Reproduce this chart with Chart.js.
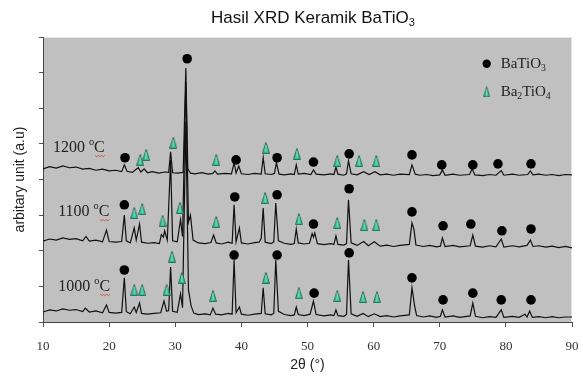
<!DOCTYPE html>
<html>
<head>
<meta charset="utf-8">
<script src="https://cdn.jsdelivr.net/npm/chart.js@4.4.0/dist/chart.umd.min.js"></script>
<style>body{margin:0;background:#fff}</style>
</head>
<body>
<canvas id="xrd" width="583" height="380"></canvas>
<script>
// x axis ticks (2 theta, degrees)
var thetaTicks = [10, 20, 30, 40, 50, 60, 70, 80, 90];
var temps = ['1200', '1100', '1000'];

// scans: [2theta, intensity a.u.]
var scan1200 = [[10,4.30],[11,4.36],[12,4.32],[13,4.38],[14,4.33],[15,4.35],[16,4.29],[17,4.31],[18,4.26],[19,4.29],[20,4.24],[21,4.26],[21.9,4.22],[22.3,4.41],[22.7,4.23],[23.5,4.20],[24.4,4.33],[24.8,4.21],[25.3,4.30],[25.8,4.19],[26.5,4.22],[27.5,4.18],[28.5,4.21],[29.0,4.20],[29.3,4.78],[29.6,4.19],[30.3,4.18],[31.2,4.20],[31.6,7.13],[31.9,4.30],[32.3,4.18],[33,4.16],[34,4.19],[35,4.15],[35.7,4.17],[36.0,4.24],[36.4,4.15],[37.5,4.17],[38.5,4.16],[38.9,4.47],[39.2,4.18],[39.6,4.38],[40.0,4.16],[41,4.14],[42,4.17],[43.0,4.15],[43.3,4.61],[43.6,4.16],[44.5,4.14],[45.0,4.17],[45.3,4.47],[45.7,4.15],[46.5,4.13],[47.5,4.16],[48.0,4.14],[48.3,4.41],[48.6,4.15],[49.5,4.17],[50.5,4.14],[50.9,4.27],[51.3,4.15],[52.5,4.13],[53.5,4.16],[54.0,4.14],[54.3,4.35],[54.6,4.15],[55.5,4.12],[55.9,4.16],[56.2,4.52],[56.6,4.16],[57.5,4.13],[58.5,4.22],[59.3,4.14],[60.2,4.22],[61,4.13],[62,4.15],[63,4.12],[64,4.15],[65.4,4.14],[65.8,4.41],[66.3,4.15],[67,4.12],[68,4.14],[69,4.11],[70.0,4.13],[70.4,4.27],[70.8,4.12],[72,4.15],[73,4.12],[74.5,4.14],[74.9,4.30],[75.3,4.13],[76.5,4.11],[77.5,4.14],[78.5,4.12],[79.3,4.25],[79.7,4.12],[81,4.15],[82,4.12],[83.3,4.14],[83.7,4.24],[84.1,4.13],[85,4.15],[86,4.12],[87,4.14],[88,4.11],[89,4.14],[90,4.13]];

var scan1100 = [[10,2.27],[11,2.33],[12,2.30],[13,2.36],[14,2.32],[15,2.34],[16,2.28],[16.5,2.40],[17,2.27],[18,2.30],[19,2.25],[19.6,2.58],[20,2.26],[21,2.24],[21.9,2.26],[22.3,3.00],[22.6,2.28],[23.2,2.22],[23.8,2.64],[24.1,2.30],[24.6,2.75],[24.9,2.24],[25.8,2.21],[26.8,2.23],[27.6,2.20],[27.9,2.45],[28.2,2.38],[28.4,2.56],[28.8,2.30],[29.3,4.55],[29.6,2.28],[30.3,2.25],[30.8,2.87],[31.1,2.40],[31.6,6.74],[32.0,2.80],[32.3,3.00],[32.7,2.30],[33.5,2.22],[34.5,2.20],[35.4,2.23],[35.8,2.44],[36.2,2.22],[37,2.19],[38,2.24],[38.6,2.21],[38.9,3.29],[39.2,2.25],[39.7,2.64],[40.0,2.22],[41,2.19],[42,2.23],[42.7,2.24],[43.0,2.35],[43.3,3.20],[43.6,2.24],[44.5,2.20],[44.9,2.25],[45.2,3.34],[45.6,2.28],[46.5,2.21],[47.5,2.18],[48.0,2.20],[48.3,2.61],[48.6,2.22],[49.5,2.19],[50.3,2.21],[50.7,2.48],[50.9,2.38],[51.1,2.50],[51.5,2.20],[52.5,2.17],[53.5,2.20],[54.0,2.18],[54.3,2.42],[54.6,2.18],[55.5,2.16],[55.9,2.20],[56.2,3.43],[56.6,2.22],[57.5,2.15],[58.5,2.26],[59.2,2.14],[60.1,2.25],[61,2.13],[62,2.16],[63,2.12],[64,2.15],[65.4,2.18],[65.8,2.78],[66.1,2.60],[66.4,2.16],[67.5,2.12],[68.5,2.15],[69.5,2.11],[70.1,2.13],[70.4,2.36],[70.8,2.12],[72,2.15],[73,2.11],[74.6,2.14],[75.0,2.44],[75.4,2.13],[76.5,2.10],[77.5,2.14],[78.5,2.11],[79.3,2.33],[79.7,2.10],[81,2.14],[82,2.11],[83.2,2.15],[83.7,2.30],[84.1,2.12],[85,2.14],[86,2.10],[87,2.13],[88,2.09],[89,2.12],[90,2.08]];

var scan1000 = [[10,0.28],[11,0.34],[12,0.31],[13,0.37],[14,0.33],[15,0.35],[16,0.29],[16.4,0.39],[17,0.28],[18,0.31],[19,0.26],[19.6,0.48],[20,0.27],[21,0.25],[21.9,0.27],[22.3,1.24],[22.6,0.29],[23.2,0.23],[23.8,0.42],[24.1,0.27],[24.6,0.53],[24.9,0.24],[25.8,0.22],[26.8,0.24],[27.8,0.26],[28.3,0.59],[28.7,0.30],[29.0,0.32],[29.3,1.54],[29.6,0.30],[30.3,0.27],[30.8,0.79],[31.1,0.40],[31.6,5.62],[32.0,0.90],[32.4,0.45],[32.8,0.25],[33.5,0.21],[34.5,0.23],[35.3,0.20],[35.7,0.39],[36.1,0.22],[37,0.20],[38,0.24],[38.6,0.22],[38.9,1.74],[39.2,0.26],[39.7,0.42],[40.0,0.22],[41,0.19],[42,0.22],[43.0,0.24],[43.3,0.96],[43.6,0.23],[44.5,0.20],[44.9,0.24],[45.2,1.74],[45.6,0.30],[46.5,0.21],[47.5,0.18],[48.0,0.20],[48.3,0.42],[48.6,0.21],[49.5,0.18],[50.4,0.22],[50.9,0.59],[51.3,0.21],[52.5,0.17],[53.5,0.20],[54.0,0.18],[54.3,0.34],[54.6,0.18],[55.5,0.16],[55.9,0.21],[56.2,1.74],[56.6,0.23],[57.5,0.16],[58.4,0.24],[59.2,0.15],[60.1,0.23],[61,0.15],[62,0.18],[63,0.14],[64,0.17],[65.4,0.20],[65.8,0.96],[66.2,0.45],[66.5,0.18],[67.5,0.14],[68.5,0.17],[69.5,0.13],[70.1,0.16],[70.4,0.34],[70.8,0.14],[72,0.17],[73,0.13],[74.6,0.17],[75.0,0.53],[75.4,0.16],[76.5,0.12],[77.5,0.15],[78.5,0.13],[79.3,0.34],[79.7,0.13],[81,0.16],[82,0.13],[82.9,0.22],[83.2,0.14],[83.6,0.31],[84.0,0.13],[85,0.15],[86,0.12],[87,0.15],[88,0.12],[89,0.14],[90,0.14]];

// phase markers above the peaks
var batio3 = [[22.4,4.61],[31.8,7.39],[39.2,4.55],[45.4,4.61],[50.9,4.49],[56.3,4.72],[65.8,4.69],[70.3,4.41],[75.0,4.41],[78.8,4.44],[83.8,4.44],
  [22.3,3.29],[39.0,3.51],[45.4,3.57],[50.9,2.75],[56.3,3.74],[65.8,3.09],[70.5,2.70],[74.7,2.75],[79.4,2.56],[83.8,2.61],
  [22.3,1.46],[38.9,1.88],[45.4,1.88],[51.0,0.81],[56.3,1.94],[65.8,1.24],[70.5,0.62],[75.0,0.81],[79.3,0.62],[83.8,0.62]];
var ba2tio4 = [[24.7,4.55],[25.6,4.69],[29.7,5.03],[36.2,4.55],[43.7,4.89],[48.4,4.72],[54.5,4.52],[57.8,4.52],[60.4,4.52],
  [23.8,3.06],[25.0,3.17],[28.1,2.84],[30.7,3.20],[36.2,2.81],[43.6,3.48],[48.7,2.89],[54.5,2.78],[58.6,2.72],[60.4,2.72],
  [23.8,0.90],[25.0,0.90],[28.7,0.90],[29.5,1.83],[31.0,1.24],[35.7,0.73],[43.7,1.24],[48.7,0.81],[54.5,0.73],[58.4,0.70],[60.5,0.70]];

function pts(a) { return a.map(function (p) { return {x: p[0], y: p[1]}; }); }

// tall teal triangle used for Ba2TiO4
function makeTri(w, h) {
  var c = document.createElement('canvas');
  c.width = w; c.height = h;
  var g = c.getContext('2d');
  g.beginPath();
  g.moveTo(w / 2, 0.5);
  g.lineTo(w - 0.5, h - 0.5);
  g.lineTo(0.5, h - 0.5);
  g.closePath();
  g.fillStyle = '#33c293';
  g.fill();
  g.strokeStyle = '#2c6f5f';
  g.lineWidth = 1;
  g.stroke();
  g.beginPath();
  g.moveTo(w / 2, 3);
  g.lineTo(w / 2, h - 2);
  g.strokeStyle = 'rgba(200,255,235,0.6)';
  g.stroke();
  return c;
}
var tri = makeTri(8, 12);
var triSmall = makeTri(7, 11);

// text with sub/superscripts
function rich(ctx, x, y, parts, size, family, align) {
  var w = 0;
  parts.forEach(function (p) {
    var s = p[1] ? size * 0.65 : size;
    ctx.font = s + 'px ' + family;
    p.w = ctx.measureText(p[0]).width;
    w += p.w;
  });
  if (align === 'center') x -= w / 2;
  ctx.textAlign = 'left';
  ctx.textBaseline = 'middle';
  parts.forEach(function (p) {
    var s = p[1] ? size * 0.65 : size;
    var dy = p[1] === 'sub' ? size * 0.32 : (p[1] === 'sup' ? -size * 0.3 : 0);
    ctx.font = s + 'px ' + family;
    ctx.fillText(p[0], x, y + dy);
    p.x = x;
    x += p.w;
  });
  return parts;
}

var decor = {
  id: 'decor',
  beforeDraw: function (chart) {
    var ctx = chart.ctx, a = chart.chartArea;
    ctx.save();
    ctx.fillStyle = '#c0c0c0';
    ctx.fillRect(a.left, a.top, a.right - a.left, a.bottom - a.top);
    ctx.strokeStyle = '#e4e4e4';
    ctx.lineWidth = 1;
    ctx.beginPath();
    ctx.moveTo(a.left, a.top + 0.5);
    ctx.lineTo(a.right - 0.5, a.top + 0.5);
    ctx.lineTo(a.right - 0.5, a.bottom);
    ctx.stroke();
    ctx.restore();
  },
  afterDraw: function (chart) {
    var ctx = chart.ctx, a = chart.chartArea;
    var xs = chart.scales.x, ys = chart.scales.y;
    ctx.save();
    ctx.fillStyle = '#111';
    rich(ctx, 313, 18, [['Hasil XRD Keramik BaTiO', ''], ['3', 'sub']], 17, '"Liberation Sans", Arial, sans-serif', 'center');

    ctx.fillStyle = '#222';
    ctx.font = '14px "Liberation Sans", Arial, sans-serif';
    ctx.textAlign = 'center';
    ctx.textBaseline = 'middle';
    ctx.fillText('2θ (°)', (a.left + a.right) / 2, 365);
    ctx.translate(20, (a.top + a.bottom) / 2);
    ctx.rotate(-Math.PI / 2);
    ctx.fillText('arbitary unit (a.u)', 0, 0);
    ctx.setTransform(1, 0, 0, 1, 0, 0);

    // temperature labels
    var spots = [[11.5, 4.9], [12.3, 3.1], [12.3, 1.0]];
    temps.forEach(function (t, i) {
      ctx.fillStyle = '#222';
      var p = rich(ctx, xs.getPixelForValue(spots[i][0]), ys.getPixelForValue(spots[i][1]),
        [[t + ' ', ''], ['o', 'sup'], ['C', '']], 16, '"Liberation Serif", "Times New Roman", serif', 'left');
      var cx = p[2].x, cy = ys.getPixelForValue(spots[i][1]) + 8;
      ctx.strokeStyle = '#d04040';
      ctx.lineWidth = 0.8;
      ctx.beginPath();
      for (var k = 0; k <= 6; k++) {
        var px = cx + 1 + k * 1.6, py = cy + (k % 2 ? 1.2 : 0);
        if (k === 0) ctx.moveTo(px, py); else ctx.lineTo(px, py);
      }
      ctx.stroke();
    });

    // legend
    var lx = xs.getPixelForValue(77.1);
    var l1 = ys.getPixelForValue(7.25), l2 = ys.getPixelForValue(6.46);
    ctx.fillStyle = '#000';
    ctx.beginPath();
    ctx.arc(lx, l1, 4.2, 0, Math.PI * 2);
    ctx.fill();
    ctx.drawImage(triSmall, lx - 3.5, l2 - 5.5);
    ctx.fillStyle = '#222';
    var ser = '"Liberation Serif", "Times New Roman", serif';
    rich(ctx, lx + 14, l1, [['BaTiO', ''], ['3', 'sub']], 15, ser, 'left');
    rich(ctx, lx + 14, l2, [['Ba', ''], ['2', 'sub'], ['TiO', ''], ['4', 'sub']], 15, ser, 'left');
    ctx.restore();
  }
};

function lineSet(data, n) {
  return {type: 'scatter', data: pts(data), showLine: true, borderColor: '#111', borderWidth: 1.2,
    pointRadius: 0, tension: 0, order: n};
}

new Chart(document.getElementById('xrd'), {
  type: 'scatter',
  data: {
    datasets: [
      {data: pts(batio3), pointStyle: 'circle', pointRadius: 4.8, backgroundColor: '#000', borderWidth: 0, order: 0},
      {data: pts(ba2tio4), pointStyle: tri, pointRadius: 5, order: 0},
      lineSet(scan1200, 1),
      lineSet(scan1100, 2),
      lineSet(scan1000, 3)
    ]
  },
  options: {
    responsive: false,
    animation: false,
    layout: {padding: {top: 37, right: 11, left: 0, bottom: 0}},
    plugins: {legend: {display: false}, title: {display: false}, tooltip: {enabled: false}},
    scales: {
      x: {
        type: 'linear', min: 10, max: 90,
        afterBuildTicks: function (s) { s.ticks = thetaTicks.map(function (v) { return {value: v}; }); },
        afterFit: function (s) { s.height = 58; s.paddingLeft = 0; s.paddingRight = 0; },
        grid: {drawOnChartArea: false, drawTicks: true, tickLength: 5, color: '#555'},
        border: {color: '#444'},
        ticks: {color: '#333', padding: 12, maxRotation: 0, font: {family: '"Liberation Serif", "Times New Roman", serif', size: 13}}
      },
      y: {
        min: 0, max: 8,
        ticks: {stepSize: 1, display: false},
        afterFit: function (s) { s.width = 43; s.paddingTop = 0; s.paddingBottom = 0; },
        grid: {drawOnChartArea: false, drawTicks: true, tickLength: 4, color: '#555'},
        border: {color: '#444'}
      }
    }
  },
  plugins: [decor]
});
</script>
</body>
</html>
